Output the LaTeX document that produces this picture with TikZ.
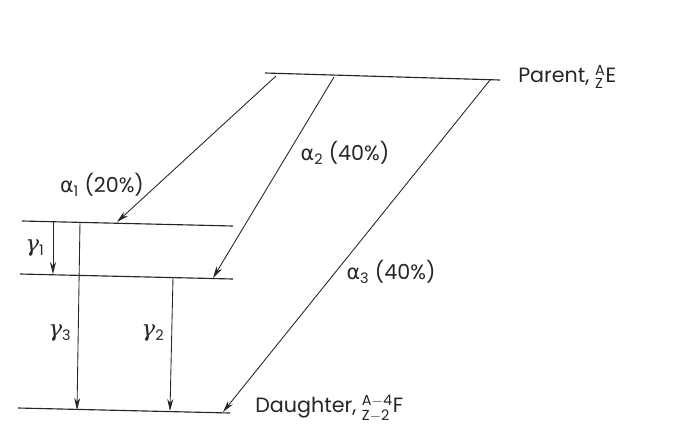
\documentclass[tikz,border=0pt]{standalone}
\usepackage{amsmath}
\usepackage{fontspec}
\setmainfont{Poppins}
\newfontfamily\grk{DejaVu Sans}
\newfontfamily\gmf{DejaVu Serif}
\usetikzlibrary{arrows.meta}
\newcommand{\al}[1]{{\grk α}\textsubscript{#1}}
\newcommand{\gm}[1]{{\gmf\itshape\fontsize{17}{18}\selectfont γ}\textsubscript{#1}}
\tikzset{
  lvl/.style={line width=0.85pt, black!85},
  tr/.style={line width=0.65pt, black!85, -{Stealth[length=9pt,width=4.5pt]}},
  lab/.style={font=\fontsize{15.5}{18}\selectfont, text=black!85, inner sep=0pt}
}
\begin{document}
\begin{tikzpicture}[x=0.75pt,y=-0.75pt]
\useasboundingbox[fill=white] (0,0) rectangle (689,433);
% levels
\coordinate (p0) at (265,73); \coordinate (p1) at (500,80);
\coordinate (a0) at (22,221); \coordinate (a1) at (233,226);
\coordinate (b0) at (20,274); \coordinate (b1) at (233,279);
\coordinate (g0) at (18,408); \coordinate (g1) at (230,413);
\draw[lvl] (p0) -- (p1);
\draw[lvl] (a0) -- (a1);
\draw[lvl] (b0) -- (b1);
\draw[lvl] (g0) -- (g1);
% transition endpoints
\coordinate (s1) at (276,76); \coordinate (e1) at (117,222);
\coordinate (s2) at (334,77); \coordinate (e2) at (213,278);
\coordinate (s3) at (490,80); \coordinate (e3) at (223,412);
\coordinate (c1) at (53,222); \coordinate (d1) at (53,274);
\coordinate (c3) at (80,222); \coordinate (d3) at (77,410);
\coordinate (c2) at (173,277); \coordinate (d2) at (170,411);
\draw[tr] (s1) -- (e1);
\draw[tr] (s2) -- (e2);
\draw[tr] (s3) -- (e3);
\draw[tr] (c1) -- (d1);
\draw[tr] (c3) -- (d3);
\draw[tr] (c2) -- (d2);
% labels
\node[lab, anchor=west] (lp) at (518,77) {Parent, ${}^{\text{A}}_{\text{Z}}$E};
\node[lab, anchor=west] (ld) at (255,408) {Daughter, ${}^{\text{A}-\text{4}}_{\text{Z}-\text{2}}$F};
\node[lab] (la1) at (102,185) {\al{1} (20\%)};
\node[lab] (la2) at (345,153) {\al{2} (40\%)};
\node[lab] (la3) at (391,272) {\al{3} (40\%)};
\node[lab] (lg1) at (35,248) {\gm{1}};
\node[lab] (lg3) at (60,333) {\gm{3}};
\node[lab] (lg2) at (153,333) {\gm{2}};
\end{tikzpicture}
\end{document}
